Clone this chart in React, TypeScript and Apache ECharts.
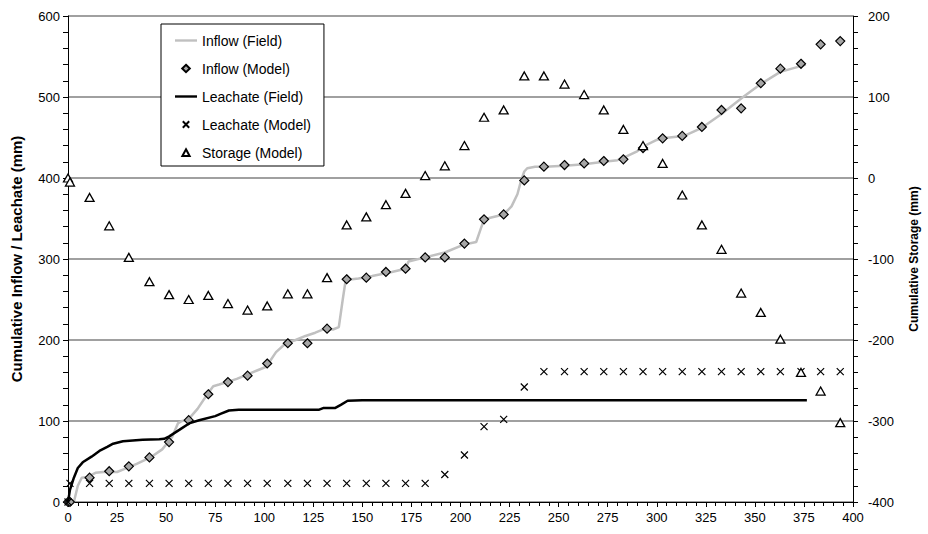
import React, { useEffect, useRef } from "react";
import * as echarts from "echarts";

const FONT = '"Liberation Sans", Arial, Helvetica, sans-serif';

// Inflow (Field) – measured line
const inflowFieldX = [0, 3, 5, 7, 10, 14, 18, 25, 28, 35, 42, 48, 53, 56, 58, 61, 66, 71, 74, 77, 81, 86, 91, 96, 101, 106, 111, 116, 121, 126, 131, 135, 138, 140, 141.5, 148, 155, 165, 172, 173.5, 182, 192, 202, 208, 210, 212, 222, 226, 229, 231, 232.5, 234, 238, 243, 253, 263, 273, 280, 284, 290, 294, 300, 303, 310, 314, 323, 333, 344, 353, 363, 376];
const inflowFieldY = [0, 0, 20, 30, 31, 36, 37, 37, 40, 47, 55, 65, 80, 97, 100, 101, 115, 133, 143, 145, 148, 152, 157, 162, 167, 185, 196, 200, 205, 209, 214, 213, 216, 250, 274, 276, 279, 284, 288, 297, 302, 308, 318, 321, 335, 349, 355, 365, 380, 398, 408, 412, 414, 414, 415, 417, 420, 422, 426, 433, 440, 447, 449, 451, 452, 462, 479, 500, 516, 531, 540];

// Leachate (Field) – measured line
const leachateFieldX = [0, 1, 3, 5, 7.5, 12, 16, 20, 23, 28, 33, 38, 46.5, 49, 51.6, 56.7, 61.7, 66.8, 75, 78, 82, 87, 100, 128, 130, 133, 136, 139, 142.5, 150, 376.5];
const leachateFieldY = [0, 15, 30, 42, 49, 56, 63, 68, 72, 75, 76, 77, 77.5, 78, 81, 89, 97, 101, 106, 109, 113, 114, 114, 114, 116, 116, 116, 120, 125, 125.5, 125.5];

// Model output days
const modelDays = [0, 1, 11, 21, 31, 41.5, 51.5, 61.5, 71.5, 81.5, 91.5, 101.5, 112, 122, 132, 142, 152, 162, 172, 182, 192, 202, 212, 222, 232.5, 242.5, 253, 263, 273, 283, 293, 303, 313, 323, 333, 343, 353, 363, 373.5, 383.5, 393.5];
const inflowModel = [0, 0, 30, 38, 44, 55, 74, 101, 133, 148, 156, 171, 196, 196, 214, 275, 277, 284, 288, 302, 302, 319, 349, 355, 397, 414, 416, 418, 421, 423, 437, 449, 452, 463, 484, 486, 517, 535, 541, 565, 569];
const leachateModel = [0, 23, 23, 23, 23, 23, 23, 23, 23, 23, 23, 23, 23, 23, 23, 23, 23, 23, 23, 23, 34, 58, 93, 102, 142, 161, 161, 161, 161, 161, 161, 161, 161, 161, 161, 161, 161, 161, 161, 161, 161];
const storageModel = [0, -5, -24, -59, -98, -128, -144, -150, -145, -155, -163, -158, -143, -143, -123, -58, -48, -33, -19, 3, 15, 40, 75, 84, 126, 126, 116, 103, 84, 60, 40, 18, -21, -58, -88, -142, -166, -199, -240, -263, -302];

const legendNames = ["Inflow (Field)", "Inflow (Model)", "Leachate (Field)", "Leachate (Model)", "Storage (Model)"];

const xTicks = { min: 0, max: 400, interval: 25 };
const leftTicks = { min: 0, max: 600, interval: 100 };
const rightTicks = { min: -400, max: 200, interval: 100 };

const zip = (xs: number[], ys: number[]) => xs.map((x, i) => [x, ys[i]]);

// legend icons drawn inside a 22x8 box (the leading moves fix the box)
const BOX = "M0,0M22,8";
const ICON_LINE = `path://${BOX}M0,2.8L22,2.8L22,5.2L0,5.2Z`;
const ICON_DIAMOND = `path://${BOX}M11,0.3L14.8,4L11,7.7L7.2,4Z`;
const ICON_CROSS = `path://${BOX}M7.8,0.8L14.2,7.2M14.2,0.8L7.8,7.2`;
const ICON_TRIANGLE = `path://${BOX}M11,0.8L14.6,7.4L7.4,7.4Z`;
const legendIcons = [ICON_LINE, ICON_DIAMOND, ICON_LINE, ICON_CROSS, ICON_TRIANGLE];

export default function App() {
  const ref = useRef<HTMLDivElement>(null);
  useEffect(() => {
    const chart = echarts.init(ref.current!, null, { renderer: "svg" });
    const axisText = { color: "#000", fontSize: 13, fontFamily: FONT };
    chart.setOption({
      animation: false,
      backgroundColor: "#fff",
      textStyle: { fontFamily: FONT },
      grid: { left: 68, right: 71, top: 16, bottom: 32, containLabel: false },
      legend: {
        show: true,
        orient: "vertical",
        left: 161,
        top: 24,
        itemWidth: 22,
        itemHeight: 8,
        itemGap: 13,
        padding: [9, 13, 6, 13],
        backgroundColor: "#fff",
        borderColor: "#000",
        borderWidth: 1,
        borderRadius: 0,
        textStyle: { fontFamily: FONT, fontSize: 14, color: "#000", lineHeight: 15 },
        data: legendNames.map((name, i) => ({ name, icon: legendIcons[i] })),
        z: 10,
      },
      xAxis: {
        type: "value",
        ...xTicks,
        axisLine: { show: true, onZero: false, lineStyle: { color: "#000", width: 1 } },
        axisTick: { show: true, inside: false, length: 5, lineStyle: { color: "#000" } },
        minorTick: { show: true, splitNumber: 5, length: 4, lineStyle: { color: "#000" } },
        splitLine: { show: false },
        minorSplitLine: { show: false },
        axisLabel: { ...axisText, margin: 9 },
      },
      yAxis: [
        {
          type: "value",
          position: "left",
          ...leftTicks,
          name: "Cumulative Inflow / Leachate (mm)",
          nameLocation: "middle",
          nameGap: 44,
          nameRotate: 90,
          nameTextStyle: { color: "#000", fontFamily: FONT, fontWeight: "bold", fontSize: 15 },
          axisLine: { show: true, onZero: false, lineStyle: { color: "#000", width: 1 } },
          axisTick: { show: true, length: 5, lineStyle: { color: "#000" } },
          minorTick: { show: true, splitNumber: 5, length: 5, lineStyle: { color: "#000" } },
          splitLine: { show: true, lineStyle: { color: "#808080", width: 1.5 } },
          axisLabel: { ...axisText, margin: 8 },
        },
        {
          type: "value",
          position: "right",
          ...rightTicks,
          name: "Cumulative Storage (mm)",
          nameLocation: "middle",
          nameGap: 55,
          nameRotate: 90,
          nameTextStyle: { color: "#000", fontFamily: FONT, fontWeight: "bold", fontSize: 12 },
          axisLine: { show: true, onZero: false, lineStyle: { color: "#000", width: 1 } },
          axisTick: { show: true, length: 5, lineStyle: { color: "#000" } },
          minorTick: { show: true, splitNumber: 5, length: 5, lineStyle: { color: "#000" } },
          splitLine: { show: false },
          axisLabel: { ...axisText, margin: 15 },
        },
      ],
      series: [
        {
          type: "line",
          name: "Inflow (Field)",
          data: zip(inflowFieldX, inflowFieldY),
          symbol: "none",
          lineStyle: { color: "#c0c0c0", width: 2.5 },
          itemStyle: { color: "#c0c0c0" },
          z: 2,
        },
        {
          type: "scatter",
          name: "Inflow (Model)",
          data: zip(modelDays, inflowModel),
          symbol: "diamond",
          symbolSize: 9,
          itemStyle: { color: "#a6a6a6", borderColor: "#000", borderWidth: 1.2, opacity: 1 },
          z: 3,
        },
        {
          type: "line",
          name: "Leachate (Field)",
          data: zip(leachateFieldX, leachateFieldY),
          symbol: "none",
          lineStyle: { color: "#000", width: 2.5 },
          itemStyle: { color: "#000" },
          z: 4,
        },
        {
          type: "scatter",
          name: "Leachate (Model)",
          data: zip(modelDays, leachateModel),
          symbol: "path://M0,0L10,10M10,0L0,10",
          symbolSize: 7,
          itemStyle: { color: "rgba(0,0,0,0)", borderColor: "#000", borderWidth: 1.2, opacity: 1 },
          z: 5,
        },
        {
          type: "scatter",
          name: "Storage (Model)",
          yAxisIndex: 1,
          data: zip(modelDays, storageModel),
          symbol: "triangle",
          symbolSize: [9, 8],
          itemStyle: { color: "#fff", borderColor: "#000", borderWidth: 1.3, opacity: 1 },
          z: 6,
        },
      ],
    });
    return () => chart.dispose();
  }, []);
  return (
    <div
      ref={ref}
      style={{ position: "fixed", left: 0, top: 0, width: 928, height: 534, background: "#fff" }}
    />
  );
}
